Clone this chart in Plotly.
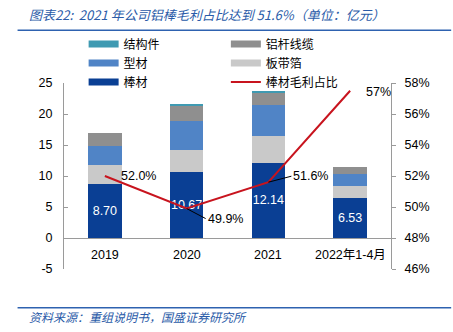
import plotly.graph_objects as go

categories = ["2019", "2020", "2021", "2022年1-4月"]
bangcai = [8.70, 10.67, 12.14, 6.53]        # 棒材
bandaibo = [3.1, 3.55, 4.3, 1.9]            # 板带箔
xingcai = [3.0, 4.7, 5.0, 1.9]              # 型材
lvganxianlan = [2.1, 2.4, 2.1, 1.2]         # 铝杆线缆
jiegoujian = [0.0, 0.15, 0.08, 0.0]         # 结构件
margin_share = [52.0, 49.9, 51.6, 57.5]     # 棒材毛利占比 (%)
margin_labels = ["52.0%", "49.9%", "51.6%", "57%"]
bar_labels = ["8.70", "10.67", "12.14", "6.53"]
left_ticks = [-5, 0, 5, 10, 15, 20, 25]
left_tick_text = ["-5", "0", "5", "10", "15", "20", "25"]

C_BANG = "#0A3F94"
C_BAN = "#C9C9C9"
C_XING = "#5084C6"
C_LV = "#8F8F8F"
C_JIE = "#3F9AB2"
C_RED = "#C8141E"
BLUE_T = "#2A5BA8"
FONT = "Liberation Sans, Noto Sans CJK SC, sans-serif"
CJK = "Noto Sans CJK SC, sans-serif"

fig = go.Figure()

stack = [("棒材", bangcai, C_BANG), ("板带箔", bandaibo, C_BAN), ("型材", xingcai, C_XING),
         ("铝杆线缆", lvganxianlan, C_LV), ("结构件", jiegoujian, C_JIE)]
for name, vals, col in stack:
    kw = {}
    if name == "棒材":
        kw = dict(text=bar_labels, textposition="inside", insidetextanchor="middle",
                  textangle=0, constraintext="none",
                  textfont=dict(color="white", size=12.5, family=FONT), texttemplate="%{text}")
    fig.add_trace(go.Bar(x=categories, y=vals, name=name, marker=dict(color=col, line=dict(width=0)),
                         width=0.41, showlegend=False, hoverinfo="skip", **kw))

fig.add_trace(go.Scatter(x=categories, y=margin_share, yaxis="y2", mode="lines",
                         line=dict(color=C_RED, width=2), showlegend=False, name="棒材毛利占比"))

# legend proxies
leg1 = [("结构件", C_JIE), ("型材", C_XING), ("棒材", C_BANG)]
leg2 = [("铝杆线缆", C_LV), ("板带箔", C_BAN)]
for n, c in leg1:
    fig.add_trace(go.Scatter(x=[categories[0]], y=[None], mode="lines", name=n,
                             line=dict(color=c, width=7), legend="legend"))
for n, c in leg2:
    fig.add_trace(go.Scatter(x=[categories[0]], y=[None], mode="lines", name=n,
                             line=dict(color=c, width=7), legend="legend2"))
fig.add_trace(go.Scatter(x=[categories[0]], y=[None], mode="lines", name="棒材毛利占比",
                         line=dict(color=C_RED, width=2), legend="legend2"))

annotations = []
offsets = [dict(showarrow=False, xshift=14, xanchor="left", yshift=0),
           dict(showarrow=True, ax=19, ay=10),
           dict(showarrow=True, ax=23, ay=-6),
           dict(showarrow=False, xshift=14, xanchor="left", yshift=-1)]
for i, (v, lab, off) in enumerate(zip(margin_share, margin_labels, offsets)):
    a = dict(x=i, y=v, xref="x", yref="y2", text=lab,
             font=dict(size=12.5, color="black", family=FONT))
    if off.get("showarrow"):
        a.update(showarrow=True, arrowhead=0, arrowwidth=1, arrowcolor="black",
                 ax=off["ax"], ay=off["ay"], xanchor="left")
    else:
        a.update(off)
    annotations.append(a)
for i, cat in enumerate(categories):
    annotations.append(dict(x=i, y=-2.75, xref="x", yref="y", text=cat, showarrow=False,
                            font=dict(size=12.5, color="black", family=FONT)))
annotations.append(dict(xref="paper", yref="paper", x=-0.114, y=1.37, xanchor="left", yanchor="middle",
                        showarrow=False,
                        text="<i>图表22:  2021 年公司铝棒毛利占比达到 51.6%（单位：亿元）</i>",
                        font=dict(size=13, color=BLUE_T, family=CJK)))
annotations.append(dict(xref="paper", yref="paper", x=-0.114, y=-0.258, xanchor="left", yanchor="middle",
                        showarrow=False, text="<i>资料来源：重组说明书，国盛证券研究所</i>",
                        font=dict(size=12, color=BLUE_T, family=CJK)))

shapes = [
    dict(type="line", xref="paper", yref="paper", x0=-0.142, x1=1.184, y0=1.283, y1=1.283,
         line=dict(color="#2E62B0", width=1.5)),
    dict(type="line", xref="paper", yref="paper", x0=-0.142, x1=1.184, y0=-0.209, y1=-0.209,
         line=dict(color="#2E62B0", width=1.5)),
]

fig.update_layout(
    width=453, height=332,
    margin=dict(l=64, r=62, t=83, b=63),
    paper_bgcolor="white", plot_bgcolor="white",
    barmode="stack",
    font=dict(family=FONT, size=12.5, color="black"),
    xaxis=dict(type="category", categoryorder="array", categoryarray=categories, range=[-0.5, 3.5],
               showticklabels=False, showgrid=False, ticks="", showline=False, zeroline=False),
    yaxis=dict(range=[-5, 25], tickvals=left_ticks, ticktext=left_tick_text, showgrid=False,
               zeroline=True, zerolinecolor="#9A9A9A",
               zerolinewidth=1, showline=True, linecolor="#9A9A9A", linewidth=1,
               ticks="inside", ticklen=4, tickcolor="#9A9A9A", ticklabelstandoff=8,
               tickfont=dict(size=12.5)),
    yaxis2=dict(range=[46, 58], dtick=2, overlaying="y", side="right", showgrid=False,
                zeroline=False, showline=True, linecolor="#9A9A9A", linewidth=1,
                ticks="outside", ticklen=4, tickcolor="#9A9A9A", ticksuffix="%",
                ticklabelstandoff=6, tickfont=dict(size=12.5)),
    legend=dict(x=0.06, y=1.287, xanchor="left", yanchor="top", bgcolor="rgba(0,0,0,0)",
                font=dict(size=12, family=CJK), tracegroupgap=0, itemwidth=30, traceorder="normal"),
    legend2=dict(x=0.495, y=1.287, xanchor="left", yanchor="top", bgcolor="rgba(0,0,0,0)",
                 font=dict(size=12, family=CJK), tracegroupgap=0, itemwidth=30, traceorder="normal"),
    annotations=annotations,
    shapes=shapes,
    showlegend=True,
)

fig.write_html("out.html")
